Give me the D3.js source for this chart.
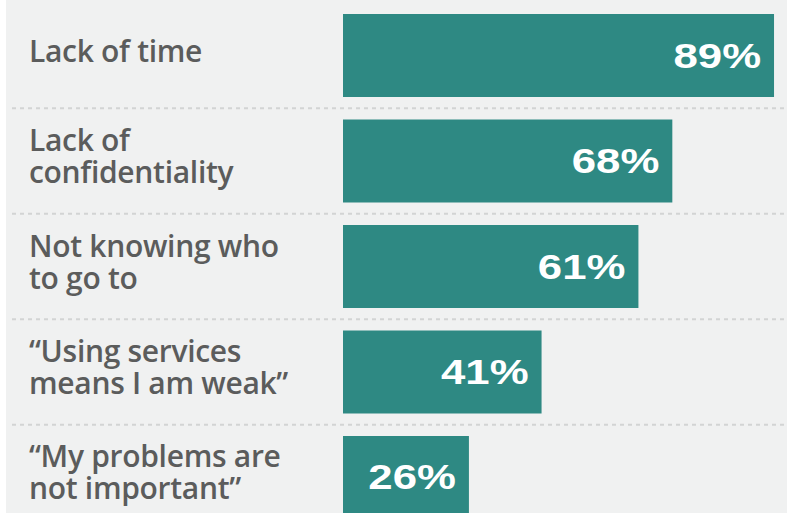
<!DOCTYPE html>
<html>
<head>
<meta charset="utf-8">
<script src="https://cdn.jsdelivr.net/npm/d3@7"></script>
<style>
  html, body { margin: 0; padding: 0; background: #ffffff; }
  svg { display: block; }
</style>
</head>
<body>
<div id="chart"></div>
<script>
//////////////////////////// data /////////////////////////////////////////

const categories = [
  ["Lack of time"],
  ["Lack of", "confidentiality"],
  ["Not knowing who", "to go to"],
  ["\u201cUsing services", "means I am weak\u201d"],
  ["\u201cMy problems are", "not important\u201d"]
];
const values = [89, 68, 61, 41, 26];
const valueLabels = ["89%", "68%", "61%", "41%", "26%"];

//////////////////////////// set up svg ///////////////////////////////////

const width = 787;
const height = 513;

const svg = d3.select("#chart")
  .append("svg")
  .attr("width", width)
  .attr("height", height);

// light panel, thin white strip on the left
svg.append("rect")
  .attr("x", 6).attr("y", 0)
  .attr("width", width - 6).attr("height", height)
  .attr("fill", "#f0f1f1");

//////////////////////////// scales ///////////////////////////////////////

const idx = d3.range(values.length);

const yScale = d3.scaleBand()
  .domain(idx)
  .range([2.75, 530.25])
  .paddingInner(0.2133)
  .paddingOuter(0.1067);

const xScale = d3.scaleLinear()
  .domain([0, 100])
  .range([343, 343 + 484.3]);

//////////////////////////// dividers /////////////////////////////////////

const step = yScale.step();
svg.selectAll("line.divider")
  .data(idx.slice(1))
  .join("line")
  .attr("class", "divider")
  .attr("x1", 12)
  .attr("x2", width)
  .attr("y1", (d) => yScale(d) - (step - yScale.bandwidth()) / 2)
  .attr("y2", (d) => yScale(d) - (step - yScale.bandwidth()) / 2)
  .attr("stroke", "#d2d4d4")
  .attr("stroke-width", 2)
  .attr("stroke-dasharray", "4,4");

//////////////////////////// bars /////////////////////////////////////////

svg.selectAll("rect.bar")
  .data(idx)
  .join("rect")
  .attr("class", "bar")
  .attr("x", xScale(0))
  .attr("y", (d) => yScale(d))
  .attr("width", (d) => xScale(values[d]) - xScale(0))
  .attr("height", yScale.bandwidth())
  .attr("fill", "#2e8983");

// value labels, widened a bit to mimic the heavy grotesque of the original
svg.selectAll("text.value")
  .data(idx)
  .join("text")
  .attr("class", "value")
  .attr("transform", (d) =>
    `translate(${xScale(values[d]) - 13},${yScale(d) + yScale.bandwidth() / 2 + 12}) scale(1.25,1)`)
  .attr("text-anchor", "end")
  .attr("fill", "#ffffff")
  .style("font-family", "'Liberation Sans', Arial, sans-serif")
  .style("font-weight", "700")
  .style("font-size", "35px")
  .text((d) => valueLabels[d]);

//////////////////////////// labels ///////////////////////////////////////

const lineHeight = 32;
const labels = svg.selectAll("text.label")
  .data(idx)
  .join("text")
  .attr("class", "label")
  .attr("x", 29)
  .attr("y", (d) => yScale(d) + yScale.bandwidth() / 2 + 6 - (categories[d].length - 1) * lineHeight / 2)
  .attr("fill", "#5b5c5c")
  .style("font-family", "'Open Sans', sans-serif")
  .style("font-weight", "600")
  .style("font-size", "30px")
  .style("letter-spacing", "-0.3px");

labels.selectAll("tspan")
  .data((d) => categories[d])
  .join("tspan")
  .attr("x", 29)
  .attr("dy", (d, i) => (i === 0 ? 0 : lineHeight))
  .text((d) => d);
</script>
</body>
</html>
